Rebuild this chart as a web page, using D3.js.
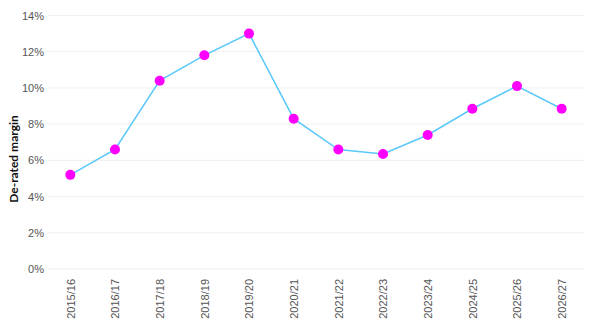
<!DOCTYPE html>
<html><head><meta charset="utf-8">
<script src="https://cdn.jsdelivr.net/npm/d3@7"></script>
<style>body{margin:0;background:#fff;font-family:Lato,"Open Sans",sans-serif;}</style>
</head><body><svg id="c" width="591" height="335"></svg>
<script>
const categories = ["2015/16","2016/17","2017/18","2018/19","2019/20","2020/21","2021/22","2022/23","2023/24","2024/25","2025/26","2026/27"];
const margin = [5.2,6.6,10.4,11.8,13.0,8.3,6.6,6.35,7.4,8.85,10.1,8.85];
const yTicks = [0,2,4,6,8,10,12,14];

const svg = d3.select("#c");
const x = d3.scalePoint().domain(categories).range([48,584]).padding(0.5);
const y = d3.scaleLinear().domain([0,14]).range([269,15.5]);

svg.append("g").selectAll("line").data(yTicks).join("line")
  .attr("x1",48).attr("x2",584).attr("y1",d=>y(d)).attr("y2",d=>y(d))
  .attr("stroke","#f0f0f0").attr("stroke-width",1);

const ya = svg.append("g").attr("transform","translate(48,0)")
  .call(d3.axisLeft(y).tickValues(yTicks).tickFormat(d=>d+"%").tickSize(0).tickPadding(4));
ya.select(".domain").remove();
ya.selectAll("text").attr("fill","#555").attr("font-size",11);

const xa = svg.append("g").attr("transform","translate(0,269)")
  .call(d3.axisBottom(x).tickSize(0));
xa.select(".domain").remove();
xa.selectAll("text").attr("fill","#555").attr("font-size",11)
  .attr("transform","rotate(-90)").attr("text-anchor","end")
  .attr("x",-10).attr("y",0).attr("dy","0.35em");

svg.append("text").attr("transform","translate(18,159) rotate(-90)")
  .attr("text-anchor","middle").attr("font-weight","bold").attr("font-size",12).attr("fill","#111")
  .text("De-rated margin");

svg.append("path").datum(margin)
  .attr("d", d3.line().x((d,i)=>x(categories[i])).y(d=>y(d)))
  .attr("fill","none").attr("stroke","#5ac8fa").attr("stroke-width",1.5);

svg.append("g").selectAll("circle").data(margin).join("circle")
  .attr("cx",(d,i)=>x(categories[i])).attr("cy",d=>y(d)).attr("r",5)
  .attr("fill","#ff00ff");
</script></body></html>
